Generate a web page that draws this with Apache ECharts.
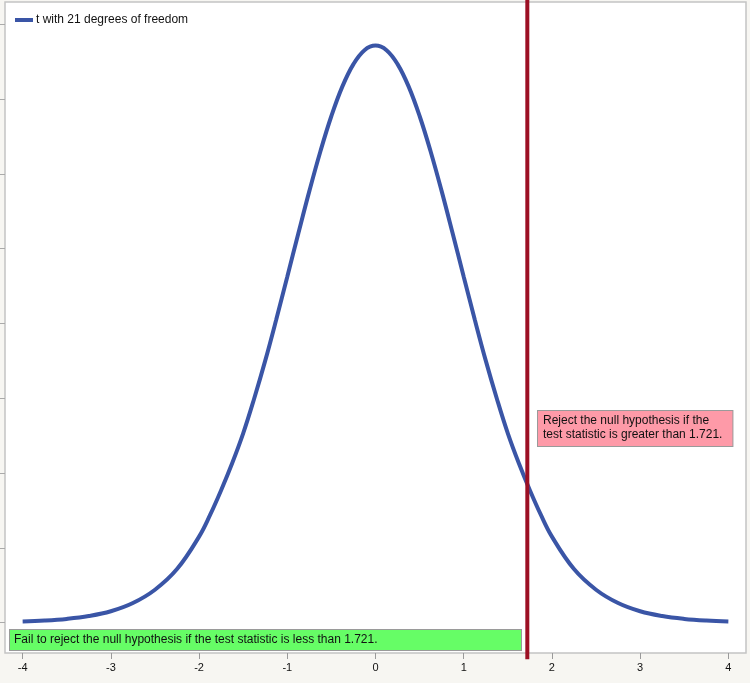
<!DOCTYPE html>
<html><head><meta charset="utf-8">
<script src="https://cdn.jsdelivr.net/npm/echarts@6/dist/echarts.min.js"></script>
<style>html,body{margin:0;padding:0;background:#f7f6f2;}#c{width:750px;height:683px;}</style>
</head><body><div id="c"></div>
<script>
// curve values (t with 21 df)
const tValues = [-4,-3.75,-3.5,-3.25,-3,-2.75,-2.5,-2.25,-2,-1.875,-1.75,-1.625,-1.5,-1.375,-1.25,-1.125,-1,-0.875,-0.75,-0.625,-0.5,-0.375,-0.25,-0.125,0,0.125,0.25,0.375,0.5,0.625,0.75,0.875,1,1.125,1.25,1.375,1.5,1.625,1.75,1.875,2,2.25,2.5,2.75,3,3.25,3.5,3.75,4];
const density = [0.0008,0.0014,0.0025,0.0044,0.0076,0.0131,0.022,0.0358,0.0575,0.0720,0.0885,0.1065,0.1265,0.1498,0.1751,0.2026,0.2312,0.2601,0.2884,0.3149,0.3386,0.3584,0.3733,0.3826,0.3857,0.3826,0.3733,0.3584,0.3386,0.3149,0.2884,0.2601,0.2312,0.2026,0.1751,0.1498,0.1265,0.1065,0.0885,0.0720,0.0575,0.0358,0.022,0.0131,0.0076,0.0044,0.0025,0.0014,0.0008];
const xTicks = [-4,-3,-2,-1,0,1,2,3,4];
const yTicks = [0,0.05,0.1,0.15,0.2,0.25,0.3,0.35,0.4];
const critical = 1.721;
const seriesName = 't with 21 degrees of freedom';
const failText = 'Fail to reject the null hypothesis if the test statistic is less than 1.721.';
const rejectText = 'Reject the null hypothesis if the\ntest statistic is greater than 1.721.';

const chart = echarts.init(document.getElementById('c'));
const font = '"Liberation Sans", Arial, sans-serif';
chart.setOption({
  backgroundColor: '#f7f6f2',
  animation: false,
  textStyle: {fontFamily: font},
  grid: {left: 5, right: 4, top: 2, bottom: 30, show: true, backgroundColor: '#ffffff', borderColor: '#c4c4c4', borderWidth: 1.5},
  legend: {left: 10, top: 9, itemWidth: 18, itemHeight: 4, itemGap: 10, icon: 'rect',
    textStyle: {fontSize: 12, color: '#111', fontFamily: font, padding: [0,0,0,-2]},
    data: [{name: seriesName, itemStyle: {color: '#3a55a6'}}]},
  xAxis: {type: 'value', min: -4.2, max: 4.2, position: 'bottom',
    axisLine: {show: false, onZero: false},
    splitLine: {show: false},
    axisTick: {show: true, customValues: xTicks, length: 6, lineStyle: {color: '#9a9a9a'}},
    axisLabel: {customValues: xTicks, color: '#111', fontSize: 11, margin: 9, fontFamily: font}},
  yAxis: {type: 'value', min: -0.0203, max: 0.4148, position: 'left',
    axisLine: {show: false, onZero: false},
    splitLine: {show: false},
    axisTick: {show: true, customValues: yTicks, length: 5, lineStyle: {color: '#aaaaaa'}},
    axisLabel: {show: false}},
  series: [
    {name: seriesName, type: 'line', smooth: 0.4, showSymbol: false,
     lineStyle: {color: '#3a55a6', width: 4}, itemStyle: {color: '#3a55a6'},
     data: tValues.map((t, i) => [t, density[i]]), z: 3},
    {name: 'critical', type: 'line', showSymbol: false, clip: false, silent: true,
     lineStyle: {color: '#9c1024', width: 4}, z: 4,
     data: [[critical, -0.0245], [critical, 0.4162]]}
  ],
  graphic: [
    {type: 'text', left: 9, top: 629, z: 10,
     style: {text: failText, font: '12px ' + font, fill: '#111', backgroundColor: '#66fd66',
       borderColor: '#9a9a9a', borderWidth: 1, padding: [4, 136, 4, 4], width: 371}},
    {type: 'text', left: 537, top: 410, z: 10,
     style: {text: rejectText, font: '12px ' + font, fill: '#111', backgroundColor: '#fe9aa8', lineHeight: 14,
       borderColor: '#9a9a9a', borderWidth: 1, padding: [3, 10, 4, 5]}}
  ]
});
</script></body></html>
